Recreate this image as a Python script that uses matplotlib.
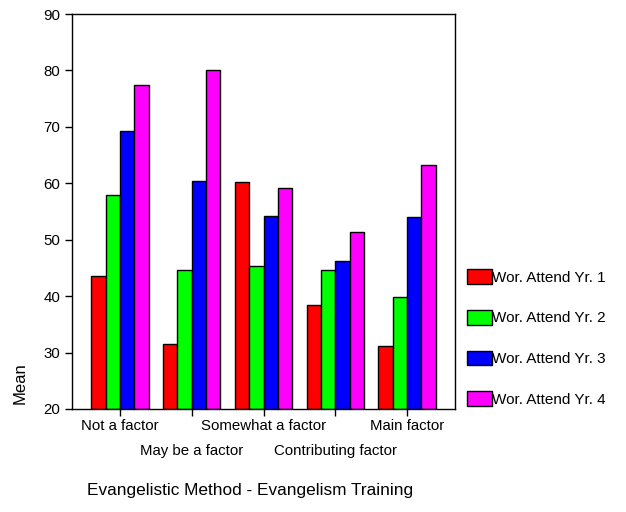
import numpy as np
import matplotlib
matplotlib.use("Agg")
import matplotlib.pyplot as plt

plt.rcParams['font.family'] = ['Liberation Sans', 'DejaVu Sans']

categories = ["Not a factor", "May be a factor", "Somewhat a factor",
              "Contributing factor", "Main factor"]
series_names = ["Wor. Attend Yr. 1", "Wor. Attend Yr. 2",
                "Wor. Attend Yr. 3", "Wor. Attend Yr. 4"]
yr1 = [43.5, 31.6, 60.2, 38.4, 31.1]
yr2 = [58.0, 44.6, 45.3, 44.6, 39.9]
yr3 = [69.3, 60.4, 54.2, 46.3, 54.0]
yr4 = [77.5, 80.0, 59.2, 51.3, 63.3]
colors = ["#ff0000", "#00ff00", "#0000ff", "#ff00ff"]

fig = plt.figure(figsize=(6.26, 5.12), dpi=100)
ax = fig.add_axes([72/626, 1 - 409/512, 383/626, 395/512])

x = np.arange(len(categories))
w = 0.2
handles = []
for i, vals in enumerate([yr1, yr2, yr3, yr4]):
    b = ax.bar(x + (i - 1.5) * w, np.array(vals) - 20, bottom=20, width=w,
               color=colors[i], edgecolor="black", linewidth=1.0,
               label=series_names[i])
    handles.append(b)

ax.set_ylim(20, 90)
ax.set_xlim(-0.67, 4.67)
ax.set_yticks([20, 30, 40, 50, 60, 70, 80, 90])
ax.set_xticks(x)
ax.set_xticklabels(categories, fontsize=10.8)
ax.tick_params(axis='y', labelsize=10.8, direction='out', length=5, width=1)
ax.tick_params(axis='x', direction='out', length=5, width=1, pad=2.4)
# stagger every second category label onto a lower row
for i, t in enumerate(ax.xaxis.get_major_ticks()):
    if i % 2 == 1:
        t.set_pad(20)
for s in ax.spines.values():
    s.set_linewidth(1.0)

ax.set_ylabel("Mean", fontsize=12)
ax.yaxis.set_label_coords(-0.117, 0.065)
fig.text(250/626, 1 - 490/512, "Evangelistic Method - Evangelism Training",
         fontsize=12.4, ha='center', va='center')

fig.legend(handles=handles, loc='upper left',
           bbox_to_anchor=(461/626, 1 - 263/512), frameon=False,
           fontsize=11, labelspacing=1.65, handlelength=1.6,
           handleheight=1.1, handletextpad=0.05, borderaxespad=0)

fig.savefig("out.png", dpi=100)
